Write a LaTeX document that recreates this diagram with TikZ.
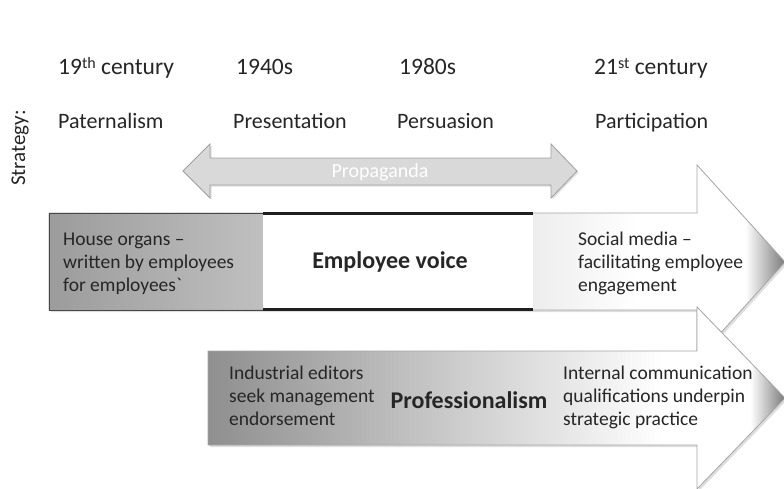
\documentclass[tikz,border=0pt]{standalone}
\usepackage{fontspec}
\setmainfont{Carlito}
\definecolor{txt}{HTML}{262626}
\definecolor{propfill}{HTML}{D9D9D9}
\definecolor{aoneL}{gray}{0.61}
\definecolor{atwoL}{gray}{0.56}
\definecolor{aTip}{gray}{0.48}
\pgfdeclarehorizontalshading{arrowone}{100bp}{color(0bp)=(aoneL); color(25bp)=(aoneL); color(65bp)=(white); color(72.3bp)=(white); color(75bp)=(aTip); color(100bp)=(aTip)}
\pgfdeclarehorizontalshading{arrowtwo}{100bp}{color(0bp)=(atwoL); color(25bp)=(atwoL); color(64.5bp)=(white); color(72bp)=(white); color(75bp)=(aTip); color(100bp)=(aTip)}
\newcommand{\supx}[1]{\raisebox{5.2pt}{\fontsize{16}{18}\selectfont #1}}
\begin{document}
\begin{tikzpicture}[x=1pt,y=-1pt,
  hdr/.style={font=\fontsize{22}{26}\selectfont, text=txt, inner sep=0pt, anchor=base west},
  yr/.style={font=\fontsize{23.5}{28}\selectfont, text=txt, inner sep=0pt, anchor=base west},
  body/.style={font=\fontsize{19.5}{23.3}\selectfont, text=txt, inner sep=0pt, align=left, anchor=west},
  boldtxt/.style={font=\fontsize{24}{28}\selectfont\bfseries, text=txt, inner sep=0pt, anchor=base},
  outl/.style={draw=gray!70, line width=0.8pt, line join=miter},
  shadowfill/.style={fill=black, opacity=0.13}]
\useasboundingbox (0,0) rectangle (784,488);
\fill[white] (0,0) rectangle (784,488);

% Strategy label
\node[font=\fontsize{21}{25}\selectfont, text=txt, rotate=90, inner sep=0pt] (strategy) at (20,148) {Strategy:};

% period headers
\node[yr] (c19) at (58,74) {19\supx{th} century};
\node[yr] (y1940) at (236,74) {1940s};
\node[yr] (y1980) at (399,74) {1980s};
\node[yr] (c21) at (594,74) {21\supx{st} century};

% strategies
\node[hdr] (pat) at (58,128) {Paternalism};
\node[hdr] (pres) at (233,128) {Presentation};
\node[hdr] (pers) at (397,128) {Persuasion};
\node[hdr] (part) at (595,128) {Participation};

% Propaganda double arrow
\fill[shadowfill, shift={(1.5,1.5)}] (183,171) -- (210,144) -- (210,158) -- (551,158) -- (551,144) -- (577,171) -- (551,198) -- (551,185) -- (210,185) -- (210,198) -- cycle;
\filldraw[fill=propfill, draw=gray!75, line width=0.8pt] (183,171) -- (210,144) -- (210,158) -- (551,158) -- (551,144) -- (577,171) -- (551,198) -- (551,185) -- (210,185) -- (210,198) -- cycle;
\node[font=\fontsize{20}{24}\selectfont, text=white, inner sep=0pt] (prop) at (380,172) {Propaganda};

% Arrow 1: employee voice
\fill[shadowfill, shift={(2,2)}] (49,213) -- (697,213) -- (697,165) -- (785,262) -- (697,359) -- (697,310) -- (49,310) -- cycle;
\shade[shading=arrowone] (49,213) -- (697,213) -- (697,165) -- (785,262) -- (697,359) -- (697,310) -- (49,310) -- cycle;
\draw[outl] (49,213) -- (697,213) -- (697,165) -- (785,262) -- (697,359) -- (697,310) -- (49,310) -- cycle;
\draw[draw=gray!55!black, line width=0.8pt] (49,213) rectangle (263,310);
\fill[white] (263,212) rectangle (533,311);
\draw[line width=3pt, black!88] (263,213) -- (533,213);
\draw[line width=3pt, black!88] (263,309.5) -- (533,309.5);

\node[body] (house) at (63,263.7) {\strut House organs –\\\strut written by employees\\\strut for employees\textasciigrave};
\node[boldtxt] (voice) at (390,268) {Employee voice};
\node[body] (social) at (578,263.7) {\strut Social media –\\\strut facilitating employee\\\strut engagement};

% Arrow 2: professionalism
\fill[shadowfill, shift={(2,2)}] (208,351) -- (697,351) -- (697,307) -- (785,398) -- (697,489) -- (697,445) -- (208,445) -- cycle;
\shade[shading=arrowtwo] (208,351) -- (697,351) -- (697,307) -- (785,398) -- (697,489) -- (697,445) -- (208,445) -- cycle;
\draw[outl] (208,351) -- (697,351) -- (697,307) -- (785,398) -- (697,489) -- (697,445) -- (208,445) -- cycle;

\node[body] (editors) at (229,397.7) {\strut Industrial editors\\\strut seek management\\\strut endorsement};
\node[boldtxt] (prof) at (469,408) {Professionalism};
\node[body] (internal) at (563,397.7) {\strut Internal communication\\\strut qualifications underpin\\\strut strategic practice};
\end{tikzpicture}
\end{document}
